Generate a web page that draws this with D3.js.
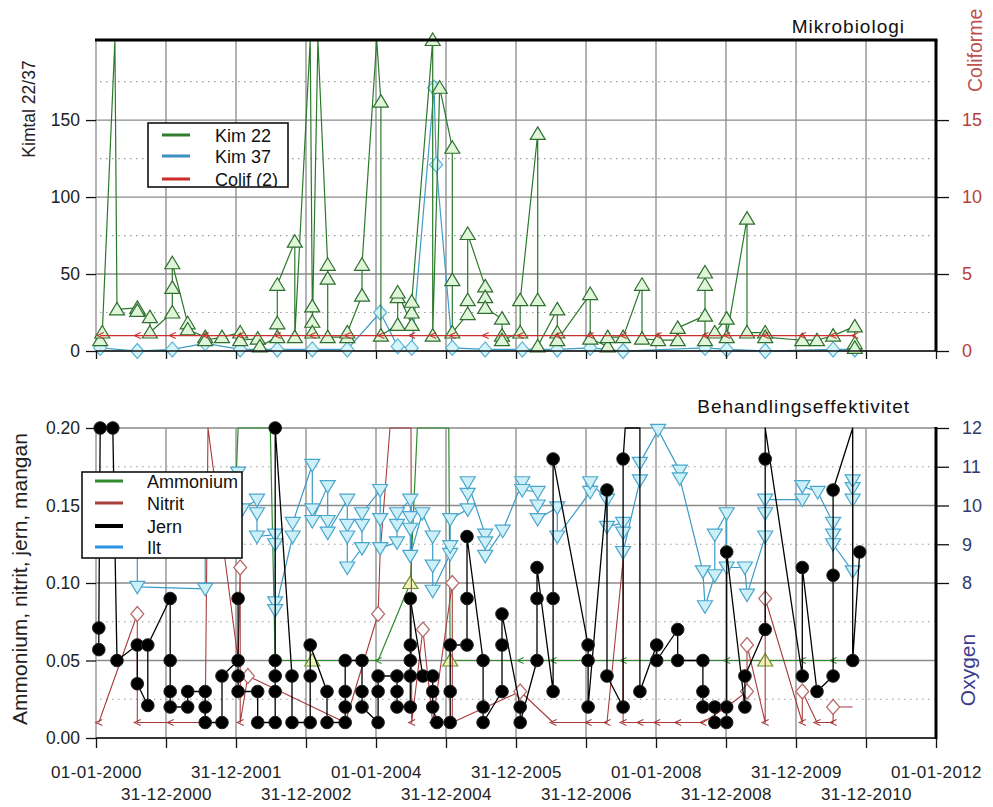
<!DOCTYPE html>
<html>
<head>
<meta charset="utf-8">
<script src="https://cdnjs.cloudflare.com/ajax/libs/d3/7.8.5/d3.min.js"></script>
<style>
  body { margin: 0; background: #fff; }
  text { font-family: "Liberation Sans", Arial, sans-serif; }
</style>
</head>
<body>
<script>
const W = 993, H = 807;

// x axis: decimal years
const xTickYears = [2000, 2001, 2002, 2003, 2004, 2005, 2006, 2007, 2008, 2009, 2010, 2011, 2012];
const xTickLabels = ["01-01-2000", "31-12-2000", "31-12-2001", "31-12-2002", "01-01-2004", "31-12-2004",
  "31-12-2005", "31-12-2006", "01-01-2008", "31-12-2008", "31-12-2009", "31-12-2010", "01-01-2012"];

// top panel (Mikrobiologi)
const topLeftTicks = [0, 50, 100, 150];
const topMinorTicks = [25, 75, 125, 175];
const topRightTicks = [0, 5, 10, 15];

const kim22Dates = [2000.06, 2000.09, 2000.27, 2000.30, 2000.59, 2000.59, 2000.77, 2000.77, 2001.09, 2001.09, 2001.09,
  2001.31, 2001.31, 2001.56, 2001.56, 2001.80, 2002.06, 2002.06, 2002.31, 2002.34, 2002.59, 2002.59, 2002.59,
  2002.84, 2002.84, 2003.06, 2003.09, 2003.09, 2003.09, 2003.17, 2003.31, 2003.31, 2003.31, 2003.59, 2003.59,
  2003.80, 2003.80, 2004.01, 2004.07, 2004.07, 2004.31, 2004.31, 2004.31, 2004.51, 2004.51, 2004.51, 2004.81,
  2004.81, 2004.91, 2005.09, 2005.09, 2005.09, 2005.31, 2005.31, 2005.31, 2005.56, 2005.56, 2005.56, 2005.80,
  2005.80, 2005.80, 2006.06, 2006.06, 2006.31, 2006.31, 2006.31, 2006.59, 2006.59, 2006.59, 2007.06, 2007.06,
  2007.31, 2007.31, 2007.53, 2007.80, 2007.80, 2008.03, 2008.31, 2008.31, 2008.70, 2008.70, 2008.70, 2008.70,
  2008.84, 2009.01, 2009.01, 2009.30, 2009.30, 2009.56, 2009.56, 2010.09, 2010.30, 2010.53, 2010.84, 2010.84, 2010.84];
const kim22Values = [7, 12, 260, 27, 28, 26, 22, 12, 25, 41, 57,
  18, 14, 9, 7, 9, 12, 7, 8, 3, 9, 18, 43,
  71, 9, 300, 29, 19, 12, 300, 56, 47, 9, 9, 12,
  36, 56, 300, 162, 10, 17, 35, 38, 17, 25, 32, 202,
  10, 171, 132, 46, 12, 24, 33, 76, 42, 35, 28, 21,
  10, 7, 12, 33, 141, 33, 3, 27, 12, 7, 37, 8,
  3, 9, 9, 43, 8, 7, 7, 15, 23, 43, 51, 7,
  12, 21, 9, 86, 12, 12, 9, 7, 7, 10, 16, 5, 2];

const kim37Dates = [2000.06, 2000.59, 2001.09, 2001.56, 2002.06, 2002.59, 2003.09, 2003.59, 2004.06, 2004.31, 2004.51,
  2004.83, 2004.86, 2005.09, 2005.56, 2006.09, 2006.59, 2007.06, 2007.53, 2008.70, 2009.01, 2009.56, 2010.53, 2010.84];
const kim37Values = [2, 0, 1, 5, 1, 1, 1, 1, 25, 3, 2, 171, 121, 2, 1, 1, 1, 2, 0, 2, 1, 0, 1, 1];

const colifDates = [2000.06, 2000.59, 2001.09, 2001.56, 2002.06, 2002.59, 2003.09, 2003.59, 2004.07, 2004.51, 2004.81,
  2005.09, 2005.56, 2006.06, 2006.59, 2007.06, 2007.53, 2008.03, 2008.70, 2009.01, 2009.56, 2010.09, 2010.53, 2010.84];
const colifValues = [1, 1, 1, 1, 1, 1, 1, 1, 1, 1, 1, 1, 1, 1, 1, 1, 1, 1, 1, 1, 1, 1, 1, 1];

// bottom panel (Behandlingseffektivitet)
const botLeftTicks = [0, 0.05, 0.10, 0.15, 0.20];
const botMinorTicks = [0.025, 0.075, 0.125, 0.175];
const botRightTicks = [8, 9, 10, 11, 12];

const ammoniumDates = [2001.97, 2002.03, 2002.49, 2002.56, 2003.09, 2003.56, 2004.03, 2004.49, 2004.59, 2005.04, 2005.06,
  2005.53, 2006.06, 2006.53, 2007.03, 2007.53, 2008.01, 2008.67, 2009.01, 2009.56, 2010.09, 2010.53, 2010.81];
const ammoniumValues = [0.13, 0.30, 0.30, 0.05, 0.05, 0.05, 0.05, 0.10, 0.30, 0.30, 0.05,
  0.05, 0.05, 0.05, 0.05, 0.05, 0.05, 0.05, 0.05, 0.05, 0.05, 0.05, 0.05];
const ammoniumMarks = ["", "", "", "<", "t", "<", "<", "t", "", "", "t",
  "<", "<", "<", "<", "<", "<", "<", "<", "t", "<", "<", "<"];

const nitritDates = [2000.04, 2000.59, 2000.59, 2001.06, 2001.56, 2001.60, 2002.03, 2002.06, 2002.06, 2002.17, 2003.56,
  2004.03, 2004.06, 2004.20, 2004.50, 2004.51, 2004.67, 2004.81, 2005.09, 2005.09, 2006.06, 2006.53, 2007.03,
  2007.30, 2007.53, 2007.53, 2007.77, 2008.01, 2008.31, 2008.67, 2009.01, 2009.30, 2009.30, 2009.56, 2009.56,
  2010.09, 2010.09, 2010.30, 2010.53, 2010.53, 2010.81];
const nitritValues = [0.01, 0.08, 0.01, 0.01, 0.01, 0.30, 0.05, 0.11, 0.01, 0.04, 0.01,
  0.08, 0.12, 0.30, 0.30, 0.01, 0.07, 0.01, 0.10, 0.01, 0.03, 0.01, 0.01,
  0.01, 0.115, 0.01, 0.01, 0.01, 0.01, 0.01, 0.02, 0.03, 0.06, 0.01, 0.09,
  0.01, 0.03, 0.01, 0.01, 0.02, 0.02];
const nitritMarks = ["<", "d", "<", "<", "<", "", "", "d", "<", "d", "<",
  "d", "", "", "", "<", "d", "<", "d", "<", "d", "<", "<",
  "<", "", "<", "<", "<", "<", "<", "", "d", "d", "<", "d",
  "<", "d", "<", "<", "d", ""];

const jernDates = [2000.04, 2000.04, 2000.06, 2000.24, 2000.30, 2000.59, 2000.59, 2000.74, 2000.74, 2001.06, 2001.06,
  2001.06, 2001.06, 2001.31, 2001.31, 2001.56, 2001.56, 2001.56, 2001.80, 2001.80, 2002.03, 2002.03, 2002.03,
  2002.03, 2002.31, 2002.31, 2002.56, 2002.56, 2002.56, 2002.56, 2002.56, 2002.80, 2002.80, 2003.06, 2003.06,
  2003.06, 2003.30, 2003.30, 2003.56, 2003.56, 2003.56, 2003.56, 2003.80, 2003.80, 2003.80, 2004.03, 2004.03,
  2004.03, 2004.30, 2004.30, 2004.30, 2004.49, 2004.49, 2004.49, 2004.49, 2004.49, 2004.67, 2004.81, 2004.81,
  2004.81, 2004.87, 2005.06, 2005.06, 2005.06, 2005.30, 2005.30, 2005.30, 2005.53, 2005.53, 2005.53, 2005.80,
  2005.80, 2005.80, 2006.06, 2006.06, 2006.30, 2006.30, 2006.30, 2006.53, 2006.53, 2006.53, 2007.03, 2007.03,
  2007.03, 2007.30, 2007.30, 2007.53, 2007.53, 2007.56, 2007.77, 2007.77, 2008.01, 2008.01, 2008.31, 2008.31,
  2008.67, 2008.67, 2008.67, 2008.84, 2008.84, 2009.01, 2009.01, 2009.01, 2009.27, 2009.27, 2009.56, 2009.56,
  2009.56, 2010.09, 2010.09, 2010.30, 2010.53, 2010.53, 2010.53, 2010.81, 2010.81, 2010.91];
const jernValues = [0.057, 0.071, 0.20, 0.20, 0.05, 0.06, 0.035, 0.021, 0.06, 0.09, 0.05,
  0.03, 0.02, 0.02, 0.03, 0.03, 0.02, 0.01, 0.01, 0.04, 0.05, 0.09, 0.04,
  0.03, 0.03, 0.01, 0.01, 0.03, 0.04, 0.05, 0.20, 0.04, 0.01, 0.01, 0.04,
  0.06, 0.03, 0.01, 0.01, 0.02, 0.03, 0.05, 0.05, 0.03, 0.02, 0.01, 0.03,
  0.04, 0.04, 0.03, 0.02, 0.02, 0.04, 0.05, 0.06, 0.09, 0.04, 0.04, 0.03,
  0.02, 0.01, 0.01, 0.03, 0.06, 0.06, 0.09, 0.13, 0.05, 0.02, 0.01, 0.03,
  0.06, 0.08, 0.02, 0.01, 0.05, 0.09, 0.11, 0.03, 0.09, 0.18, 0.06, 0.05,
  0.02, 0.16, 0.04, 0.02, 0.18, 0.25, 0.25, 0.03, 0.06, 0.05, 0.07, 0.05,
  0.05, 0.03, 0.02, 0.02, 0.01, 0.01, 0.02, 0.12, 0.02, 0.04, 0.07, 0.18,
  0.25, 0.04, 0.11, 0.03, 0.04, 0.105, 0.16, 0.25, 0.05, 0.12];

const iltDates = [2000.34, 2000.59, 2000.59, 2001.56, 2001.56, 2002.03, 2002.09, 2002.30, 2002.30, 2002.30, 2002.56,
  2002.56, 2002.56, 2002.56, 2002.81, 2002.81, 2003.09, 2003.09, 2003.09, 2003.31, 2003.31, 2003.31, 2003.59,
  2003.59, 2003.59, 2003.59, 2003.80, 2003.80, 2003.80, 2004.06, 2004.06, 2004.06, 2004.30, 2004.30, 2004.30,
  2004.49, 2004.49, 2004.49, 2004.49, 2004.66, 2004.81, 2004.81, 2004.81, 2005.06, 2005.06, 2005.06, 2005.31,
  2005.31, 2005.31, 2005.56, 2005.56, 2005.56, 2005.81, 2006.09, 2006.09, 2006.31, 2006.31, 2006.31, 2006.59,
  2006.59, 2007.06, 2007.06, 2007.30, 2007.30, 2007.53, 2007.53, 2007.53, 2007.77, 2007.77, 2008.03, 2008.34,
  2008.34, 2008.67, 2008.70, 2008.84, 2008.84, 2009.01, 2009.01, 2009.27, 2009.30, 2009.56, 2009.56, 2009.56,
  2010.09, 2010.09, 2010.31, 2010.53, 2010.53, 2010.53, 2010.81, 2010.81, 2010.81, 2010.81];
const iltValues = [10.2, 9.6, 7.9, 7.85, 9.4, 10.85, 9.9, 10.15, 9.8, 9.2, 9.25,
  9.0, 7.5, 7.3, 9.2, 9.55, 11.05, 9.9, 9.6, 10.5, 9.6, 9.3, 10.15,
  9.5, 9.2, 8.4, 8.9, 9.5, 9.8, 10.4, 9.65, 8.9, 9.05, 9.5, 9.8,
  10.15, 9.7, 9.4, 8.7, 9.8, 9.2, 8.45, 7.8, 8.75, 8.95, 9.65, 9.9,
  10.3, 10.6, 9.25, 9.05, 8.7, 9.35, 10.6, 10.4, 10.35, 10.0, 9.65, 9.95,
  9.2, 10.35, 10.6, 10.15, 9.45, 9.55, 9.3, 8.8, 10.65, 11.1, 11.95, 10.9,
  10.7, 8.3, 7.4, 8.2, 9.25, 9.8, 8.4, 8.4, 7.7, 9.2, 9.8, 10.15,
  10.15, 10.5, 10.35, 9.55, 9.25, 9.0, 8.3, 10.15, 10.45, 10.65];

const svg = d3.select("body").append("svg")
  .attr("width", W)
  .attr("height", H);

const x = d3.scaleLinear().domain([2000, 2012]).range([96, 936]);
const yTop = d3.scaleLinear().domain([0, 202]).range([351, 40]);
const yTopR = d3.scaleLinear().domain([0, 20.2]).range([351, 40]);
const yBot = d3.scaleLinear().domain([0, 0.2]).range([738, 428]);
const yBotR = d3.scaleLinear().domain([4, 12]).range([738, 428]);

const shapes = {
  t: "M0,-7L7.5,5.5L-7.5,5.5Z",
  v: "M0,7L7.5,-5.5L-7.5,-5.5Z",
  d: "M0,-7.5L6.5,0L0,7.5L-6.5,0Z",
  "<": "M3.5,-3L-3,0L3.5,3"
};

function grid(y, major, minor) {
  const [b, t] = y.range();
  const g = svg.append("g");
  g.selectAll(".vg").data(xTickYears).join("line").attr("class", "vg")
    .attr("x1", d => x(d)).attr("x2", d => x(d)).attr("y1", t).attr("y2", b)
    .attr("stroke", "#8a8a8a").attr("stroke-width", 1.3);
  g.selectAll(".hg").data(major).join("line").attr("class", "hg")
    .attr("x1", 96).attr("x2", 936).attr("y1", d => y(d)).attr("y2", d => y(d))
    .attr("stroke", "#8a8a8a").attr("stroke-width", 1.3);
  g.selectAll(".mg").data(minor).join("line").attr("class", "mg")
    .attr("x1", 100).attr("x2", 936).attr("y1", d => y(d)).attr("y2", d => y(d))
    .attr("stroke", "#9a9a9a").attr("stroke-width", 1.2).attr("stroke-dasharray", "1.5,4.5");
}

// line clamped to the top of the panel, markers only where the value is in range
function series(y, dates, values, marks, o) {
  const max = y.domain()[1];
  const pts = dates.map((t, i) => ({ t, v: values[i], m: marks ? marks[i] : o.mark }));
  svg.append("path").datum(pts)
    .attr("fill", "none").attr("stroke", o.color).attr("stroke-width", o.width || 1.2)
    .attr("stroke-linejoin", "round")
    .attr("d", d3.line().x(d => x(d.t)).y(d => y(Math.min(d.v, max))));
  const g = svg.append("g");
  pts.filter(d => d.v <= max && d.m).forEach(d => {
    if (d.m === "o") {
      g.append("circle").attr("cx", x(d.t)).attr("cy", y(d.v)).attr("r", 6.3)
        .attr("fill", "#000").attr("stroke", "#222").attr("stroke-width", 1);
    } else {
      const isLess = d.m === "<";
      g.append("path").attr("d", shapes[d.m])
        .attr("transform", `translate(${x(d.t)},${y(d.v)})`)
        .attr("fill", isLess ? "none" : o.fill)
        .attr("stroke", isLess ? (o.lessColor || o.color) : o.stroke)
        .attr("stroke-width", isLess ? 1.1 : 1.2);
    }
  });
}

function leftAxis(y, ticks, fmt) {
  const g = svg.append("g").attr("transform", "translate(96,0)")
    .call(d3.axisLeft(y).tickValues(ticks).tickSize(10).tickPadding(6).tickFormat(fmt));
  g.select(".domain").remove();
  g.selectAll("line").attr("stroke", "#111").attr("stroke-width", 1.3);
  g.selectAll("text").attr("font-size", 17.5).attr("fill", "#222")
    .style("font-family", '"Liberation Sans", Arial, sans-serif');
}

function rightAxis(y, ticks, color) {
  const g = svg.append("g").attr("transform", "translate(936,0)")
    .call(d3.axisRight(y).tickValues(ticks).tickSize(13).tickPadding(13).tickFormat(d3.format("d")));
  g.select(".domain").remove();
  g.selectAll("line").attr("stroke", "#111").attr("stroke-width", 1.3);
  g.selectAll("text").attr("font-size", 18).attr("fill", color)
    .style("font-family", '"Liberation Sans", Arial, sans-serif');
}

function bottomTicks(yPos, size, labels) {
  const ax = d3.axisBottom(x).tickValues(xTickYears).tickSize(size)
    .tickFormat(labels ? (d, i) => xTickLabels[i] : "");
  const g = svg.append("g").attr("transform", `translate(0,${yPos})`).call(ax);
  g.select(".domain").remove();
  g.selectAll("line").attr("stroke", "#111").attr("stroke-width", 1.3);
  g.selectAll("text").attr("font-size", 17).attr("fill", "#222")
    .attr("letter-spacing", 0.4)
    .style("font-family", '"Liberation Sans", Arial, sans-serif')
    .attr("dy", 0)
    .attr("y", (d, i) => i % 2 === 0 ? 40 : 62);
}

function legend(bx, by, bw, bh, items, lx1, lx2, tx, rows) {
  const id = "clip" + bx;
  svg.append("clipPath").attr("id", id).append("rect")
    .attr("x", bx).attr("y", by).attr("width", bw).attr("height", bh);
  const g = svg.append("g");
  g.append("rect").attr("x", bx).attr("y", by).attr("width", bw).attr("height", bh)
    .attr("fill", "#fff").attr("stroke", "#111").attr("stroke-width", 1.6);
  const inner = g.append("g").attr("clip-path", `url(#${id})`);
  items.forEach((it, i) => {
    inner.append("line").attr("x1", lx1).attr("x2", lx2).attr("y1", rows[i]).attr("y2", rows[i])
      .attr("stroke", it.color).attr("stroke-width", it.w);
    inner.append("text").attr("x", tx).attr("y", rows[i] + 6.5)
      .attr("font-size", 18).attr("fill", "#111").text(it.name);
  });
}

// ---------- top panel ----------
grid(yTop, topLeftTicks, topMinorTicks);

series(yTop, kim37Dates, kim37Values, null,
  { color: "#3e9cc8", mark: "d", fill: "#d6f5fb", stroke: "#5fb3d6" });
series(yTop, kim22Dates, kim22Values, null,
  { color: "#2b7a2b", mark: "t", fill: "#dff6d8", stroke: "#2f6e2f" });
series(yTopR, colifDates, colifValues, null,
  { color: "#cc3030", mark: "<", width: 1.4 });

svg.append("line").attr("x1", 96).attr("x2", 936).attr("y1", 351).attr("y2", 351)
  .attr("stroke", "#111").attr("stroke-width", 1.6);
svg.append("line").attr("x1", 95).attr("x2", 937.5).attr("y1", 40).attr("y2", 40)
  .attr("stroke", "#000").attr("stroke-width", 3);
svg.append("line").attr("x1", 936).attr("x2", 936).attr("y1", 40).attr("y2", 351)
  .attr("stroke", "#000").attr("stroke-width", 3);

leftAxis(yTop, topLeftTicks, d3.format("d"));
rightAxis(yTopR, topRightTicks, "#b8403c");
bottomTicks(351, 8, false);

legend(148, 123, 140, 64,
  [{ name: "Kim 22", color: "#2e7d2e", w: 3 }, { name: "Kim 37", color: "#3b8fc0", w: 3 }, { name: "Colif (2)", color: "#cc2b2b", w: 3 }],
  162, 190, 215, [135, 156, 179]);

svg.append("text").attr("x", 905).attr("y", 33).attr("text-anchor", "end")
  .attr("font-size", 19).attr("letter-spacing", 1).attr("fill", "#111").text("Mikrobiologi");
svg.append("text").attr("transform", "translate(35,109) rotate(-90)").attr("text-anchor", "middle")
  .attr("font-size", 17.5).attr("fill", "#222").text("Kimtal 22/37");
svg.append("text").attr("transform", "translate(982,92) rotate(-90)").attr("text-anchor", "start")
  .attr("font-size", 19.5).attr("fill", "#c0504d").text("Coliforme");

// ---------- bottom panel ----------
grid(yBot, botLeftTicks, botMinorTicks);

series(yBot, ammoniumDates, ammoniumValues, ammoniumMarks,
  { color: "#2e8b2e", fill: "#eef3b8", stroke: "#6a8f2a" });
series(yBot, nitritDates, nitritValues, nitritMarks,
  { color: "#a83c3c", fill: "#fff", stroke: "#b86a6a", width: 1.1 });
series(yBotR, iltDates, iltValues, null,
  { color: "#3a9cc6", mark: "v", fill: "#cdf0f8", stroke: "#4aa6cc" });
series(yBot, jernDates, jernValues, null,
  { color: "#000", mark: "o", width: 1.3 });

svg.append("line").attr("x1", 96).attr("x2", 936).attr("y1", 738).attr("y2", 738)
  .attr("stroke", "#111").attr("stroke-width", 1.6);
svg.append("line").attr("x1", 936).attr("x2", 936).attr("y1", 427).attr("y2", 739)
  .attr("stroke", "#000").attr("stroke-width", 3);

leftAxis(yBot, botLeftTicks, d3.format(".2f"));
rightAxis(yBotR, botRightTicks, "#2f3a6a");
bottomTicks(738, 10, true);

legend(82, 472, 160, 86,
  [{ name: "Ammonium", color: "#2e8b2e", w: 3 }, { name: "Nitrit", color: "#a8403a", w: 3 },
   { name: "Jern", color: "#000", w: 4 }, { name: "Ilt", color: "#2a95e5", w: 3 }],
  95, 123, 147, [481, 503, 526, 547]);

svg.append("text").attr("x", 910).attr("y", 413).attr("text-anchor", "end")
  .attr("font-size", 19).attr("letter-spacing", 1).attr("fill", "#111").text("Behandlingseffektivitet");
svg.append("text").attr("transform", "translate(27,579) rotate(-90)").attr("text-anchor", "middle")
  .attr("font-size", 21).attr("fill", "#222").text("Ammonium, nitrit, jern, mangan");
svg.append("text").attr("transform", "translate(975,670) rotate(-90)").attr("text-anchor", "middle")
  .attr("font-size", 21).attr("fill", "#3c3c8c").text("Oxygen");
</script>
</body>
</html>
